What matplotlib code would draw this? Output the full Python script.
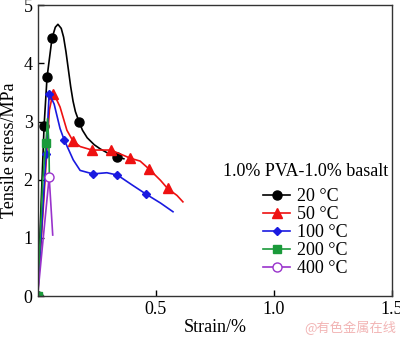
import matplotlib
matplotlib.use("Agg")
import matplotlib.pyplot as plt

plt.rcParams['font.family'] = ['Liberation Serif', 'DejaVu Serif']

# Stress-strain curves (strain %, stress MPa)
strain_20 = [0, 0.0275, 0.04, 0.061, 0.075, 0.086, 0.1, 0.11, 0.12, 0.13, 0.14, 0.15,
             0.16, 0.176, 0.19, 0.21, 0.24, 0.265, 0.3, 0.337, 0.365]
stress_20 = [0, 2.93, 3.76, 4.43, 4.62, 4.67, 4.6, 4.45, 4.2, 3.9, 3.6, 3.35,
             3.17, 2.99, 2.85, 2.72, 2.6, 2.53, 2.45, 2.39, 2.36]
marks_20 = [0, 1, 2, 3, 13, 19]

strain_50 = [0, 0.03, 0.05, 0.064, 0.08, 0.095, 0.124, 0.149, 0.18, 0.23, 0.278, 0.31,
             0.363, 0.392, 0.434, 0.47, 0.52, 0.55, 0.59, 0.615]
stress_50 = [0, 1.9, 3.2, 3.47, 3.38, 3.25, 2.85, 2.67, 2.57, 2.51, 2.51, 2.51,
             2.42, 2.37, 2.32, 2.19, 1.99, 1.85, 1.73, 1.62]
marks_50 = [3, 7, 9, 11, 13, 15, 17]

strain_100 = [0, 0.036, 0.049, 0.07, 0.095, 0.112, 0.151, 0.18, 0.234, 0.293, 0.338,
              0.4, 0.46, 0.52, 0.573]
stress_100 = [0, 2.44, 3.48, 3.3, 2.88, 2.69, 2.34, 2.16, 2.10, 2.12, 2.08,
              1.91, 1.75, 1.6, 1.45]
marks_100 = [1, 2, 5, 8, 10, 12]

strain_200 = [0, 0.022, 0.035, 0.042, 0.048, 0.05]
stress_200 = [0, 2.0, 2.63, 3.05, 2.6, 2.0]
marks_200 = [0, 2]

strain_400 = [0, 0.049, 0.064]
stress_400 = [0, 2.05, 1.05]
marks_400 = [1]

labels = ['20 °C', '50 °C', '100 °C', '200 °C', '400 °C']
legend_title = '1.0% PVA-1.0% basalt'

fig = plt.figure(figsize=(4.0, 3.4), dpi=100)
ax = fig.add_axes([0.094, 0.129, 0.886, 0.856])

ax.plot(strain_20, stress_20, color='black', lw=1.2, marker='o', ms=6.5,
        markevery=marks_20, label=labels[0])
ax.plot(strain_50, stress_50, color='#ee1111', lw=1.2, marker='^', ms=6.5,
        markevery=marks_50, label=labels[1])
ax.plot(strain_100, stress_100, color='#1a1ae0', lw=1.2, marker='D', ms=4.5,
        markevery=marks_100, label=labels[2])
ax.plot(strain_200, stress_200, color='#1a9a3a', lw=1.2, marker='s', ms=6,
        markevery=marks_200, label=labels[3])
ax.plot(strain_400, stress_400, color='#9933cc', lw=1.2, marker='o', ms=6.5,
        mfc='white', markevery=marks_400, label=labels[4])

ax.set_xlim(0, 1.5)
ax.set_ylim(0, 5)
ax.set_xticks([0.5, 1.0, 1.5])
ax.set_xticklabels(['0.5', '1.0', '1.5'])
ax.set_yticks([0, 1, 2, 3, 4, 5])
ax.tick_params(direction='in', labelsize=13, length=4, width=1)
for s in ax.spines.values():
    s.set_linewidth(1.0)
    s.set_color('#333333')

ax.set_xlabel('Strain/%', fontsize=13, labelpad=1)
ax.set_ylabel('Tensile stress/MPa', fontsize=13, labelpad=4)

leg = ax.legend(title=legend_title, loc='center', bbox_to_anchor=(0.755, 0.262),
                frameon=False, fontsize=13, title_fontsize=13, handlelength=1.5,
                handletextpad=0.35, labelspacing=0.05, borderpad=0.2)
leg._legend_box.sep = 6  # a bit more room under the title

fig.text(0.99, 0.035, '@有色金属在线', color='#f2b5b5', fontsize=9.5, ha='right',
         va='center', family=['Noto Sans CJK SC', 'DejaVu Sans'])

fig.savefig('out.png', dpi=100)
